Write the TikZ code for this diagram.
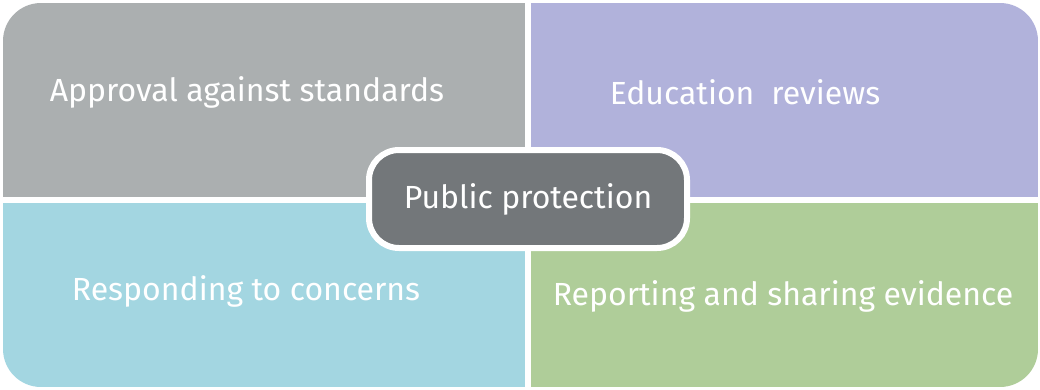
\documentclass[tikz,border=0pt]{standalone}
\usepackage{fontspec}
\setmainfont{Fira Sans}
\usetikzlibrary{positioning}
\definecolor{approvalgray}{HTML}{ABAFB0}
\definecolor{reviewpurple}{HTML}{B1B2DB}
\definecolor{concernblue}{HTML}{A3D6E1}
\definecolor{evidencegreen}{HTML}{AFCD99}
\definecolor{protectgray}{HTML}{73777A}
\tikzset{label text/.style={text=white, inner sep=0pt, font=\fontsize{32}{38}\selectfont}}

\begin{document}
\begin{tikzpicture}[x=1pt, y=-1pt]
    \useasboundingbox (0,0) rectangle (1040,389);

        % Four quadrants, outer corners rounded by the clip
        \begin{scope}
            \clip[rounded corners=38pt] (3,3) rectangle (1038,387);
            \fill[approvalgray] (3,3) rectangle (525,197);
            \fill[reviewpurple] (531,3) rectangle (1038,197);
            \fill[concernblue] (3,203) rectangle (525,387);
            \fill[evidencegreen] (531,203) rectangle (1038,387);
        \end{scope}

        % Quadrant labels
        \node[label text] (approval) at (247,92) {Approval against standards};
        \node[label text] (reviews) at (745,92) {Education\ \ reviews};
        \node[label text] (concerns) at (246,291) {Responding to concerns};
        \node[label text] (evidence) at (783,296) {Reporting and sharing evidence};

        % Centre box
        \node[label text, fill=protectgray, draw=white, line width=6pt,
              rounded corners=30pt, minimum width=318pt, minimum height=98pt]
              (protection) at (528,199) {Public protection};

\end{tikzpicture}
\end{document}
